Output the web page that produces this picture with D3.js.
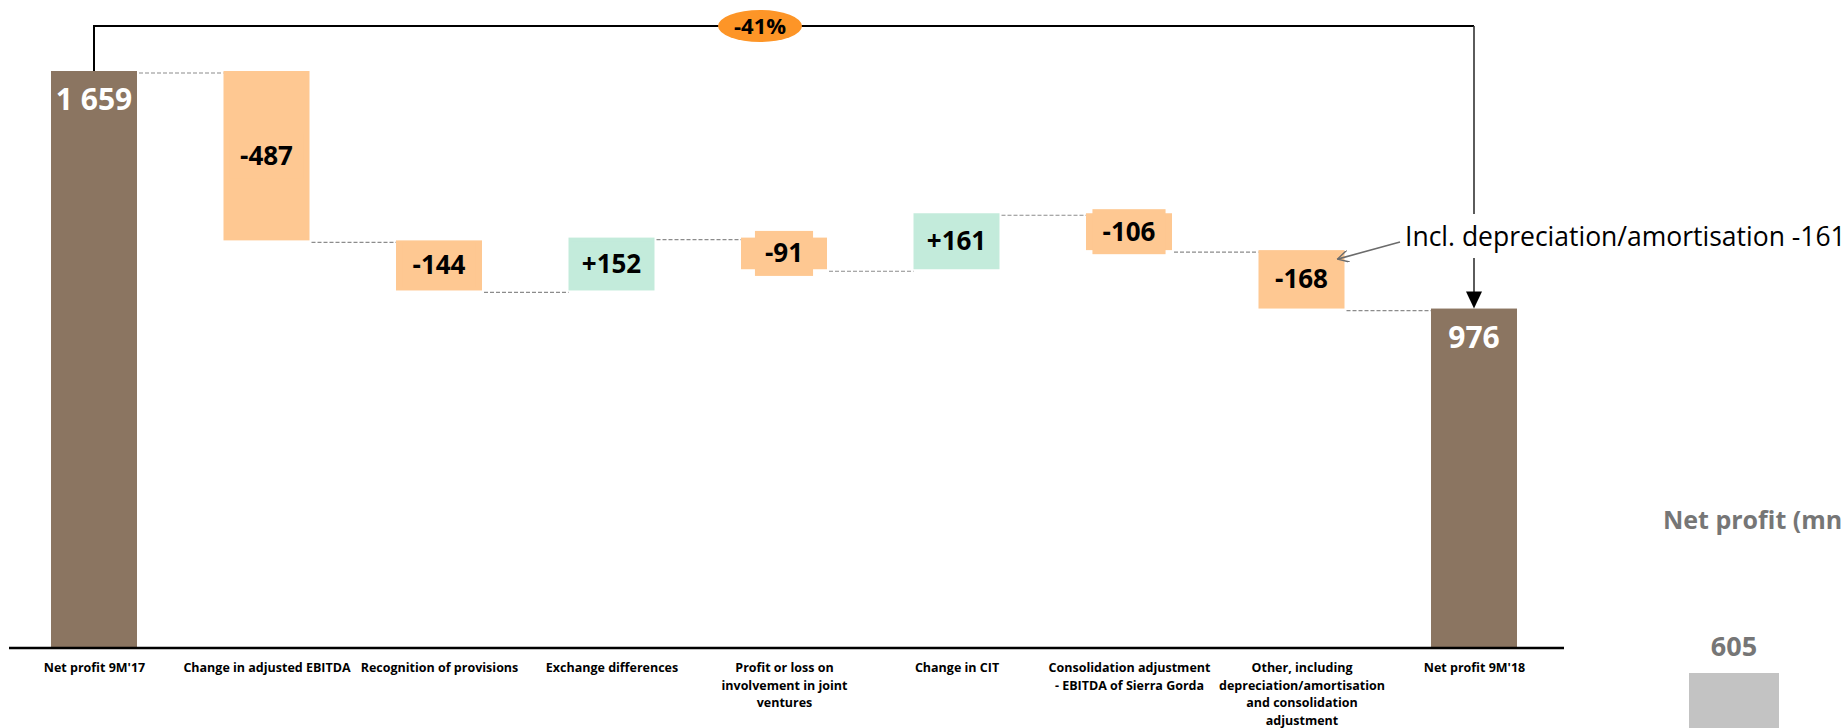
<!DOCTYPE html>
<html>
<head>
  <meta charset="UTF-8">
  <title>Net profit bridge</title>
  <script src="https://cdn.jsdelivr.net/npm/d3@7"></script>
  <style>
    body { margin: 0; background: #fff; }
    text { font-family: "Open Sans", sans-serif; }
  </style>
</head>
<body>
<svg id="svg" width="1848" height="728"></svg>

<script type="text/javascript">

// chart data
var categories = [
  "Net profit 9M'17",
  "Change in adjusted EBITDA",
  "Recognition of provisions",
  "Exchange differences",
  "Profit or loss on|involvement in joint|ventures",
  "Change in CIT",
  "Consolidation adjustment|- EBITDA of  Sierra Gorda",
  "Other, including|depreciation/amortisation|and consolidation|adjustment",
  "Net profit 9M'18"
];
var values = [1659, -487, -144, 152, -91, 161, -106, -168, 976];
var kinds = ["total", "delta", "delta", "delta", "delta", "delta", "delta", "delta", "total"];
var valueLabels = ["1 659", "-487", "-144", "+152", "-91", "+161", "-106", "-168", "976"];
var changeLabel = "-41%";
var noteText = "Incl. depreciation/amortisation -161";
var noteIndex = 7;

// partly visible side chart
var sideTitle = "Net profit (mn PLN)";
var sideValues = [605];

var svg = d3.select('#svg');

var colors = { total: '#8b7561', neg: '#fec892', pos: '#c3ebdb' };

// running totals
var bars = [];
var run = 0;
values.forEach(function(v, i){
  if (kinds[i] == 'total') {
    bars.push({ i: i, y0: 0, y1: v, kind: 'total' });
    run = v;
  } else {
    bars.push({ i: i, y0: run, y1: run + v, kind: v < 0 ? 'neg' : 'pos' });
    run = run + v;
  }
});

var x = d3.scalePoint().domain(d3.range(categories.length)).range([94, 1474]);
var y = d3.scaleLinear().domain([0, 1659]).range([648, 71]);
var bw = 86;

// dashed connectors
for (var i = 0; i < bars.length - 1; i++) {
  var level = bars[i].y1;
  svg.append('line')
    .attr('x1', x(i) + bw/2 + 2)
    .attr('x2', x(i+1) - bw/2)
    .attr('y1', y(level) + 2)
    .attr('y2', y(level) + 2)
    .style('stroke', '#8c8c8c')
    .style('stroke-width', 1.2)
    .style('stroke-dasharray', '4,2');
}

// bars
svg.selectAll('rect.bar')
  .data(bars)
  .enter().append('rect')
  .attr('class', 'bar')
  .attr('x', function(d){ return x(d.i) - bw/2; })
  .attr('y', function(d){ return y(Math.max(d.y0, d.y1)); })
  .attr('width', bw)
  .attr('height', function(d){ return Math.abs(y(d.y0) - y(d.y1)); })
  .style('fill', function(d){ return colors[d.kind]; });

// value labels; deltas get a box in the bar colour
bars.forEach(function(d){
  if (d.kind == 'total') {
    svg.append('text')
      .attr('x', x(d.i))
      .attr('y', y(d.y1) + 39)
      .attr('text-anchor', 'middle')
      .style('font-size', '30px')
      .style('font-weight', 'bold')
      .style('fill', '#fff')
      .text(valueLabels[d.i]);
    return;
  }
  var cy = (y(d.y0) + y(d.y1)) / 2;
  var g = svg.append('g');
  var t = g.append('text')
    .attr('x', x(d.i))
    .attr('y', cy + 9)
    .attr('text-anchor', 'middle')
    .style('font-size', '26px')
    .style('font-weight', 'bold')
    .style('fill', '#000')
    .text(valueLabels[d.i]);
  var w = t.node().getBBox().width + 20;
  g.insert('rect', 'text')
    .attr('x', x(d.i) - w/2)
    .attr('y', cy - 22.5)
    .attr('width', w)
    .attr('height', 45)
    .style('fill', colors[d.kind]);
});

// baseline and category labels
var axis = svg.append('g')
  .attr('transform', 'translate(0,' + y(0) + ')')
  .call(d3.axisBottom(x).tickSize(0).tickFormat(''));
axis.select('.domain').remove();
axis.append('line')
  .attr('x1', 9).attr('x2', 1564)
  .style('stroke', '#000')
  .style('stroke-width', 2.5);

axis.selectAll('.tick').each(function(d){
  var lines = categories[d].split('|');
  var t = d3.select(this).append('text')
    .attr('text-anchor', 'middle')
    .attr('y', 24)
    .style('font-size', '12.5px')
    .style('font-weight', 'bold')
    .style('fill', '#000');
  lines.forEach(function(l, k){
    t.append('tspan').attr('x', 0).attr('dy', k == 0 ? 0 : 17.5).text(l);
  });
});

// bracket showing the overall change
var xa = x(0), xb = x(categories.length - 1), topY = 26;
var yEnd = y(values[values.length - 1]);
svg.append('path')
  .attr('d', 'M' + xa + ',' + y(values[0]) + 'V' + topY + 'H' + xb)
  .style('fill', 'none')
  .style('stroke', '#000')
  .style('stroke-width', 2);
svg.append('line')
  .attr('x1', xb).attr('x2', xb)
  .attr('y1', topY).attr('y2', yEnd - 16)
  .style('stroke', '#333')
  .style('stroke-width', 1.6);
svg.append('path')
  .attr('d', 'M' + (xb - 8) + ',' + (yEnd - 17) + 'L' + (xb + 8) + ',' + (yEnd - 17) + 'L' + xb + ',' + yEnd + 'Z')
  .style('fill', '#000');

svg.append('ellipse')
  .attr('cx', 760).attr('cy', topY)
  .attr('rx', 42).attr('ry', 16)
  .style('fill', '#fd9527');
svg.append('text')
  .attr('x', 760).attr('y', topY + 8)
  .attr('text-anchor', 'middle')
  .style('font-size', '22px')
  .style('font-weight', 'bold')
  .text(changeLabel);

// note pointing to the "other" bar
var note = svg.append('g');
var nt = note.append('text')
  .attr('x', 1405).attr('y', 246)
  .style('font-size', '26.5px')
  .style('fill', '#000')
  .text(noteText);
var nb = nt.node().getBBox();
note.insert('rect', 'text')
  .attr('x', nb.x).attr('y', nb.y - 4)
  .attr('width', nb.width).attr('height', nb.height + 8)
  .style('fill', '#fff');

svg.append('defs').append('marker')
  .attr('id', 'open')
  .attr('viewBox', '0 0 12 12')
  .attr('refX', 11).attr('refY', 6)
  .attr('markerWidth', 12).attr('markerHeight', 12)
  .attr('markerUnits', 'userSpaceOnUse')
  .attr('orient', 'auto')
  .append('path')
  .attr('d', 'M0,0L11,6L0,12')
  .style('fill', 'none')
  .style('stroke', '#6b6b6b')
  .style('stroke-width', 1.4);

var nd = bars[noteIndex];
svg.append('line')
  .attr('x1', 1400).attr('y1', 242)
  .attr('x2', x(noteIndex) + 36).attr('y2', y(nd.y0) + 9)
  .attr('marker-end', 'url(#open)')
  .style('stroke', '#6b6b6b')
  .style('stroke-width', 1.6);

// side chart, cut by the page edge
var sx = d3.scalePoint().domain(d3.range(sideValues.length)).range([1734, 1734]);
var sy = d3.scaleLinear().domain([0, 605]).range([883, 673]);
svg.append('text')
  .attr('x', 1663).attr('y', 529)
  .style('font-size', '25px')
  .style('font-weight', 'bold')
  .style('fill', '#767676')
  .text(sideTitle);
svg.selectAll('rect.side')
  .data(sideValues)
  .enter().append('rect')
  .attr('class', 'side')
  .attr('x', function(d, i){ return sx(i) - 45; })
  .attr('y', function(d){ return sy(d); })
  .attr('width', 90)
  .attr('height', function(d){ return sy(0) - sy(d); })
  .style('fill', '#c3c3c3');
svg.selectAll('text.side')
  .data(sideValues)
  .enter().append('text')
  .attr('class', 'side')
  .attr('x', function(d, i){ return sx(i); })
  .attr('y', function(d){ return sy(d) - 17; })
  .attr('text-anchor', 'middle')
  .style('font-size', '27px')
  .style('font-weight', 'bold')
  .style('fill', '#767676')
  .text(function(d){ return d; });

</script>
</body>
</html>
